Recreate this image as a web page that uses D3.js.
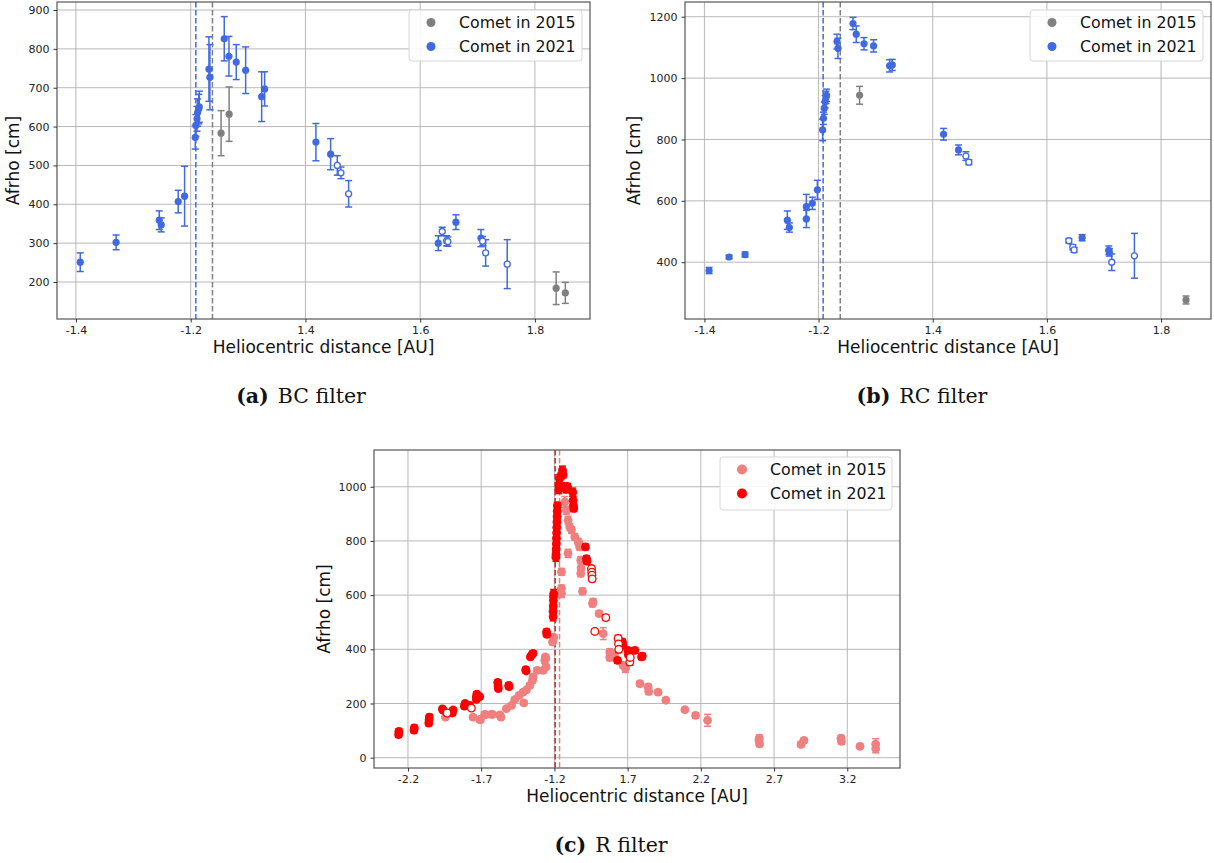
<!DOCTYPE html>
<html>
<head>
<meta charset="utf-8">
<script src="https://cdn.jsdelivr.net/npm/d3@7"></script>
<style>
  body { margin: 0; background: #fff; }
  text { font-family: "DejaVu Sans", sans-serif; }
</style>
</head>
<body>
<svg id="fig" width="1214" height="863"></svg>
<script>
// ---------- Afrho vs heliocentric distance (inbound branch negative, outbound folded after perihelion) ----------

// Axis ticks: plotted coordinate and the distance label shown under it
const xTicksBR = [-1.4, -1.2, -1.0, -0.8, -0.6];
const xTickLabelsBR = ["-1.4", "-1.2", "1.4", "1.6", "1.8"];
const xTicksR = [-2.2, -1.7, -1.2, -0.7, -0.2, 0.3, 0.8];
const xTickLabelsR = ["-2.2", "-1.7", "-1.2", "1.7", "2.2", "2.7", "3.2"];
const yTicksBC = [200, 300, 400, 500, 600, 700, 800, 900];
const yTicksRC = [400, 600, 800, 1000, 1200];
const yTicksR = [0, 200, 400, 600, 800, 1000];

// Perihelion markers (plotted coordinate)
const periBC = { y2015: -1.162, y2021: -1.191 };
const periRC = { y2015: -1.162, y2021: -1.192 };
const periR = { y2015: -1.165, y2021: -1.195 };

// ---- BC filter ----
const bc2015X = [-1.147, -1.133, -0.563, -0.547];
const bc2015Y = [583, 632, 184, 172];
const bc2015E = [58, 70, 42, 27];

const bc2021X = [-1.3925, -1.330, -1.2548, -1.2513, -1.2217, -1.2106, -1.192, -1.191, -1.189, -1.188, -1.186, -1.185,
                 -1.1682, -1.1665, -1.1415, -1.1333, -1.1206, -1.1042, -1.0763, -1.0711, -0.9817, -0.9561,
                 -0.7685, -0.7377, -0.6941];
const bc2021Y = [251, 302, 359, 347, 407, 421, 572, 603, 620, 636, 645, 651,
                 748, 727, 826, 781, 766, 745, 677, 697, 560, 529,
                 300, 354, 313];
const bc2021E = [24, 19, 24, 18, 29, 77, 30, 28, 32, 35, 38, 40,
                 83, 84, 57, 51, 45, 60, 64, 44, 48, 40,
                 19, 19, 22];

const bc2021OpenX = [-0.9445, -0.9381, -0.9247, -0.7615, -0.7539, -0.7517, -0.6912, -0.6859, -0.6483];
const bc2021OpenY = [500, 481, 427, 330, 306, 304, 305, 275, 246];
const bc2021OpenE = [25, 15, 34, 11, 13, 12, 12, 34, 63];

// ---- RC filter ----
const rc2015X = [-1.1281, -0.5562];
const rc2015Y = [944, 277];
const rc2015E = [29, 13];

const rc2021X = [-1.3918, -1.3568, -1.3288, -1.2547, -1.2512, -1.2214, -1.2214, -1.2109, -1.2021,
                 -1.1929, -1.1915, -1.190, -1.1885, -1.187, -1.186, -1.1677, -1.166,
                 -1.1397, -1.134, -1.1204, -1.1036, -1.0756, -1.0709, -0.981, -0.9548,
                 -0.7383, -0.6916, -0.6905];
const rc2021Y = [373, 417, 425, 537, 513, 581, 541, 592, 636,
                 831, 869, 902, 923, 937, 944, 1119, 1097,
                 1178, 1143, 1112, 1105, 1040, 1043, 817, 766,
                 480, 439, 432];
const rc2021E = [10, 6, 8, 30, 15, 40, 28, 20, 31,
                 35, 20, 20, 20, 20, 20, 24, 33,
                 20, 27, 20, 20, 20, 18, 19, 16,
                 10, 14, 12];

const rc2021OpenX = [-0.9419, -0.9367, -0.7616, -0.7546, -0.7523, -0.6864, -0.6467];
const rc2021OpenY = [746, 726, 470, 449, 440, 400, 421];
const rc2021OpenE = [14, 8, 7, 8, 8, 27, 73];

// ---- R filter ----
const r2015X = [-1.944, -1.756, -1.710, -1.705, -1.676, -1.669, -1.630, -1.623, -1.573, -1.565, -1.528, -1.493,
                -1.471, -1.441, -1.414, -1.409, -1.391, -1.368, -1.350, -1.345, -1.318, -1.277, -1.266, -1.262,
                -1.259, -1.257, -1.213, -1.209, -1.205,
                -1.152, -1.152, -1.152, -1.129, -1.1175, -1.107, -1.095, -1.083, -1.061, -1.038, -1.027, -1.107,
                -1.031, -1.020, -1.018, -1.020, -1.008, -0.940, -0.936, -0.895, -0.867, -0.822, -0.822,
                -0.790, -0.731, -0.715, -0.616, -0.560, -0.556, -0.492, -0.439, -0.309, -0.236, -0.154,
                0.199, 0.201, 0.197, 0.484, 0.504, 0.757, 0.760, 0.887, 0.994, 0.994];
const r2015Y = [150, 150, 141, 140, 160, 159, 160, 160, 158, 150, 181, 193,
                214, 230, 242, 202, 250, 267, 285, 298, 322, 322, 359, 372,
                366, 335, 427, 433, 445,
                606, 625, 686, 944, 913, 876, 852, 840, 815, 797, 778, 754,
                790, 729, 700, 680, 614, 569, 575, 532, 458, 390, 370,
                380, 341, 330, 273, 261, 245, 242, 212, 177, 156, 138,
                72, 51, 65, 49, 64, 72, 60, 42, 33, 50];
const r2015E = [8, 8, 8, 8, 8, 8, 10, 8, 8, 8, 8, 8,
                8, 8, 8, 8, 8, 8, 8, 8, 10, 8, 10, 8,
                8, 8, 10, 8, 8,
                15, 12, 12, 20, 15, 15, 12, 12, 12, 12, 12, 15,
                12, 12, 15, 12, 12, 12, 12, 10, 22, 12, 12,
                12, 10, 15, 10, 10, 12, 8, 10, 8, 10, 22,
                12, 10, 10, 10, 8, 10, 10, 8, 15, 20];

const r2021X = [-2.264, -2.262, -2.159, -2.157, -2.058, -2.056, -2.054, -1.965, -1.961, -1.897, -1.892,
                -1.815, -1.810, -1.778, -1.733, -1.733, -1.730, -1.710, -1.587, -1.585, -1.583, -1.512, -1.510,
                -1.396, -1.393, -1.364, -1.355, -1.346, -1.254, -1.252,
                -1.209, -1.209, -1.208, -1.207, -1.206, -1.205,
                -1.190, -1.189, -1.188, -1.187, -1.186, -1.185, -1.184, -1.183, -1.182, -1.181, -1.180,
                -1.170, -1.168, -1.165, -1.155, -1.145, -1.140, -1.130, -1.120, -1.110,
                -1.075, -1.072, -1.070, -1.068,
                -0.988, -0.981, -0.978, -0.769, -0.735, -0.733, -0.697, -0.695, -0.651, -0.605, -0.600];
const r2021Y = [85, 97, 102, 110, 128, 140, 150, 180, 176, 165, 176,
                190, 200, 193, 215, 225, 235, 225, 278, 265, 255, 267, 262,
                325, 320, 372, 380, 385, 464, 455,
                520, 540, 560, 581, 595, 606,
                740, 750, 770, 790, 810, 830, 850, 870, 890, 910, 930,
                990, 1010, 1030, 1040, 1061, 1045, 1000, 990, 1000,
                980, 950, 930, 920,
                778, 735, 725, 359, 427, 415, 396, 380, 396, 372, 375];
const r2021E = [10, 10, 10, 10, 10, 10, 10, 8, 8, 8, 8,
                8, 8, 8, 8, 8, 8, 8, 8, 8, 8, 8, 8,
                8, 8, 8, 8, 8, 10, 8,
                15, 12, 12, 15, 12, 15,
                15, 12, 12, 12, 12, 12, 12, 12, 12, 12, 12,
                15, 15, 15, 12, 15, 12, 15, 12, 12,
                15, 15, 15, 12,
                10, 10, 10, 10, 10, 10, 10, 10, 10, 10, 10];

const r2021OpenX = [-1.933, -1.767, -0.947, -0.945, -0.944, -0.942, -0.924, -0.849, -0.765, -0.762, -0.760, -0.685, -0.682];
const r2021OpenY = [165, 183, 698, 685, 674, 660, 466, 517, 440, 420, 400, 353, 370];
const r2021OpenE = [8, 8, 10, 10, 10, 10, 8, 10, 12, 12, 12, 12, 15];

const legendLabels = ["Comet in 2015", "Comet in 2021"];

// ---------- colours ----------
const GRAY = "#808080", BLUE = "#4169e1", LIGHTRED = "#f08080", RED = "#ff0000";

const svg = d3.select("#fig");

function zip(xs, ys, es) { return xs.map((x, i) => ({ x, y: ys[i], e: es[i] })); }

function drawPanel(cfg) {
  const g = svg.append("g");
  const x = d3.scaleLinear().domain(cfg.xDomain).range([cfg.left, cfg.right]);
  const y = d3.scaleLinear().domain(cfg.yDomain).range([cfg.bottom, cfg.top]);
  const clipId = "clip-" + cfg.id;
  svg.append("clipPath").attr("id", clipId).append("rect")
    .attr("x", cfg.left).attr("y", cfg.top)
    .attr("width", cfg.right - cfg.left).attr("height", cfg.bottom - cfg.top);

  // grid
  const grid = g.append("g").attr("clip-path", `url(#${clipId})`);
  grid.selectAll("line.gx").data(cfg.xTicks).join("line")
    .attr("x1", d => x(d)).attr("x2", d => x(d))
    .attr("y1", cfg.top).attr("y2", cfg.bottom)
    .attr("stroke", "#b0b0b0").attr("stroke-width", 0.9);
  grid.selectAll("line.gy").data(cfg.yTicks).join("line")
    .attr("y1", d => y(d)).attr("y2", d => y(d))
    .attr("x1", cfg.left).attr("x2", cfg.right)
    .attr("stroke", "#b0b0b0").attr("stroke-width", 0.9);

  // perihelion lines
  const plot = g.append("g").attr("clip-path", `url(#${clipId})`);
  cfg.peri.forEach(p => {
    plot.append("line")
      .attr("x1", x(p.x)).attr("x2", x(p.x))
      .attr("y1", cfg.top).attr("y2", cfg.bottom)
      .attr("stroke", p.color).attr("stroke-width", 1.5)
      .attr("stroke-dasharray", "5.5,2.5");
  });

  // series
  cfg.series.forEach(s => {
    const pts = zip(s.x, s.y, s.e);
    const sg = plot.append("g");
    const eb = sg.selectAll("g.eb").data(pts).join("g");
    eb.append("line")
      .attr("x1", d => x(d.x)).attr("x2", d => x(d.x))
      .attr("y1", d => y(d.y - d.e)).attr("y2", d => y(d.y + d.e))
      .attr("stroke", s.color).attr("stroke-width", 1.5);
    [-1, 1].forEach(sign => {
      eb.append("line")
        .attr("x1", d => x(d.x) - cfg.cap).attr("x2", d => x(d.x) + cfg.cap)
        .attr("y1", d => y(d.y + sign * d.e)).attr("y2", d => y(d.y + sign * d.e))
        .attr("stroke", s.color).attr("stroke-width", 1.5);
    });
    sg.selectAll("circle").data(pts).join("circle")
      .attr("cx", d => x(d.x)).attr("cy", d => y(d.y))
      .attr("r", s.open ? cfg.r - 0.6 : cfg.r)
      .attr("fill", s.open ? "#fff" : s.color)
      .attr("stroke", s.color).attr("stroke-width", s.open ? 1.3 : 0);
  });

  // frame
  g.append("rect")
    .attr("x", cfg.left).attr("y", cfg.top)
    .attr("width", cfg.right - cfg.left).attr("height", cfg.bottom - cfg.top)
    .attr("fill", "none").attr("stroke", "#555").attr("stroke-width", 1.2);

  // axes
  const xa = g.append("g").attr("transform", `translate(0,${cfg.bottom})`)
    .call(d3.axisBottom(x).tickValues(cfg.xTicks)
      .tickFormat((d, i) => cfg.xTickLabels[i]).tickSize(3.5).tickPadding(4));
  const ya = g.append("g").attr("transform", `translate(${cfg.left},0)`)
    .call(d3.axisLeft(y).tickValues(cfg.yTicks).tickFormat(d3.format("d")).tickSize(3.5).tickPadding(4));
  [xa, ya].forEach(a => {
    a.select(".domain").remove();
    a.selectAll(".tick line").attr("stroke", "#333");
    a.selectAll(".tick text").attr("fill", "#222")
      .style("font-family", "DejaVu Sans, sans-serif").style("font-size", "11px");
  });

  // axis titles
  g.append("text")
    .attr("x", (cfg.left + cfg.right) / 2).attr("y", cfg.bottom + 34)
    .attr("text-anchor", "middle").attr("font-size", 17).attr("fill", "#111")
    .text("Heliocentric distance [AU]");
  g.append("text")
    .attr("transform", `translate(${cfg.yTitleX},${(cfg.top + cfg.bottom) / 2}) rotate(-90)`)
    .attr("text-anchor", "middle").attr("font-size", 17).attr("fill", "#111")
    .text("Afrho [cm]");

  // legend
  const L = cfg.legend;
  const lg = g.append("g");
  lg.append("rect")
    .attr("x", L.x).attr("y", L.y).attr("width", L.w).attr("height", L.h)
    .attr("rx", 3).attr("fill", "#fff").attr("fill-opacity", 0.85)
    .attr("stroke", "#d6d6d6").attr("stroke-width", 1);
  legendLabels.forEach((lab, i) => {
    const cy = L.y + 12.5 + i * 24;
    lg.append("circle").attr("cx", L.x + 22).attr("cy", cy).attr("r", L.r).attr("fill", L.colors[i]);
    lg.append("text").attr("x", L.x + 50).attr("y", cy + 5.5)
      .attr("font-size", 15.8).attr("fill", "#111").text(lab);
  });

  // caption
  const cap = svg.append("text")
    .attr("x", cfg.caption.x).attr("y", cfg.caption.y)
    .attr("text-anchor", "middle")
    .style("font-family", "DejaVu Serif, serif").style("font-size", "20.5px").attr("fill", "#111");
  cap.append("tspan").style("font-weight", "bold").text(cfg.caption.tag);
  cap.append("tspan").attr("dx", 9).text(cfg.caption.text);
}

drawPanel({
  id: "bc", left: 57, right: 590, top: 2, bottom: 319,
  xDomain: [-1.433, -0.504], yDomain: [104.8, 920.6],
  xTicks: xTicksBR, xTickLabels: xTickLabelsBR, yTicks: yTicksBC,
  r: 3.6, cap: 3.5, yTitleX: 19,
  peri: [{ x: periBC.y2021, color: BLUE }, { x: periBC.y2015, color: GRAY }],
  series: [
    { x: bc2015X, y: bc2015Y, e: bc2015E, color: GRAY },
    { x: bc2021X, y: bc2021Y, e: bc2021E, color: BLUE },
    { x: bc2021OpenX, y: bc2021OpenY, e: bc2021OpenE, color: BLUE, open: true }
  ],
  legend: { x: 409, y: 10, w: 173, h: 51, r: 4.5, colors: [GRAY, BLUE] },
  caption: { x: 301, y: 403, tag: "(a)", text: "BC filter" }
});

drawPanel({
  id: "rc", left: 685, right: 1211, top: 2, bottom: 319,
  xDomain: [-1.434, -0.5125], yDomain: [215, 1248],
  xTicks: xTicksBR, xTickLabels: xTickLabelsBR, yTicks: yTicksRC,
  r: 3.6, cap: 3.5, yTitleX: 640,
  peri: [{ x: periRC.y2021, color: BLUE }, { x: periRC.y2015, color: GRAY }],
  series: [
    { x: rc2015X, y: rc2015Y, e: rc2015E, color: GRAY },
    { x: rc2021X, y: rc2021Y, e: rc2021E, color: BLUE },
    { x: rc2021OpenX, y: rc2021OpenY, e: rc2021OpenE, color: BLUE, open: true }
  ],
  legend: { x: 1030, y: 10, w: 173, h: 51, r: 4.5, colors: [GRAY, BLUE] },
  caption: { x: 922, y: 403, tag: "(b)", text: "RC filter" }
});

drawPanel({
  id: "r", left: 374, right: 900, top: 450, bottom: 768,
  xDomain: [-2.432, 1.16], yDomain: [-38, 1135.6],
  xTicks: xTicksR, xTickLabels: xTickLabelsR, yTicks: yTicksR,
  r: 4.4, cap: 3.5, yTitleX: 330,
  peri: [{ x: periR.y2021, color: "#d62020" }, { x: periR.y2015, color: LIGHTRED }],
  series: [
    { x: r2015X, y: r2015Y, e: r2015E, color: LIGHTRED },
    { x: r2021X, y: r2021Y, e: r2021E, color: RED },
    { x: r2021OpenX, y: r2021OpenY, e: r2021OpenE, color: RED, open: true }
  ],
  legend: { x: 720, y: 457, w: 172, h: 53, r: 5, colors: [LIGHTRED, RED] },
  caption: { x: 611, y: 852, tag: "(c)", text: "R filter" }
});
</script>
</body>
</html>
